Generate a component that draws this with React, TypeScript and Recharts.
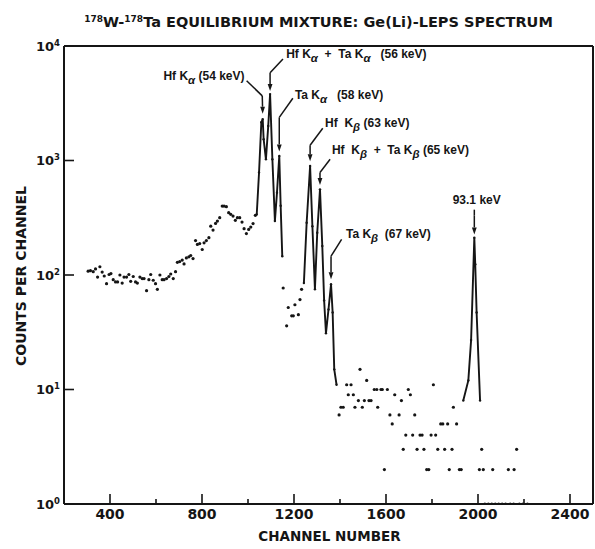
import React from 'react';
import { ComposedChart, Scatter, XAxis, YAxis, ReferenceLine, ReferenceDot } from 'recharts';

const INK = '#151515';
const FONT = '"DejaVu Sans", Verdana, sans-serif';
const ANNO_FONT = '"Liberation Sans", Arial, sans-serif';

// x axis ticks (every 200, labelled every 400)
const xTicks = [400, 600, 800, 1000, 1200, 1400, 1600, 1800, 2000, 2200, 2400];
const yTicks = [1, 10, 100, 1000, 10000];

// continuum below the X-ray peaks (dots)
const bgChannels = [
  305, 315, 327, 337, 346, 356, 366, 375, 385, 396,
  404, 414, 424, 433, 443, 453, 461, 472, 482, 490,
  501, 511, 519, 530, 540, 548, 559, 569, 577, 588,
  598, 606, 617, 627, 635, 646, 656, 664, 675, 685,
  693, 703, 714, 722, 732, 743, 751, 761, 772, 780,
  790, 801, 809, 819, 830, 838, 848, 859, 867, 877,
  888, 896, 906, 916, 925, 935, 945, 954, 964, 974,
  983, 993, 1003, 1012, 1022, 1032,
];
const bgCounts = [
  108, 109, 107, 113, 96, 118, 106, 98, 84, 101,
  103, 91, 87, 87, 100, 85, 96, 96, 101, 88,
  97, 87, 85, 96, 93, 93, 73, 91, 101, 90,
  84, 75, 100, 91, 91, 93, 97, 102, 93, 107,
  129, 131, 135, 125, 141, 144, 148, 139, 200, 185,
  188, 167, 191, 200, 212, 267, 247, 282, 296, 317,
  400, 400, 395, 350, 339, 327, 300, 317, 317, 290,
  254, 230, 250, 262, 281, 332,
];

// K-alpha group (joined line)
const kaChannels = [1038, 1048, 1058, 1064, 1068, 1078, 1088, 1096, 1106, 1117, 1126, 1136, 1142, 1149];
const kaCounts = [338, 785, 2160, 2300, 1535, 1025, 2000, 3800, 1025, 296, 524, 1097, 403, 146];

// between the K-alpha and K-beta groups (dots)
const gapChannels = [1153, 1168, 1175, 1190, 1197, 1204, 1219, 1226, 1233];
const gapCounts = [77, 36, 52, 44, 44, 55, 45, 61, 75];

// K-beta group (joined line)
const kbChannels = [1243, 1255, 1270, 1280, 1291, 1301, 1313, 1323, 1331, 1339, 1350, 1361, 1368, 1375, 1385];
const kbCounts = [85, 286, 896, 267, 75, 234, 560, 179, 60, 31, 50, 83, 47, 15, 11];

// tail up to the 93.1 keV gamma line (dots)
const tailChannels = [
  1396, 1404, 1414, 1429, 1436, 1448, 1458, 1465, 1480, 1487,
  1497, 1506, 1516, 1526, 1535, 1549, 1560, 1564, 1578, 1584,
  1593, 1606, 1617, 1627, 1638, 1657, 1667, 1675, 1686, 1697,
  1706, 1716, 1725, 1735, 1748, 1757, 1765, 1777, 1786, 1796,
  1806, 1816, 1825, 1838, 1847, 1855, 1868, 1875, 1887, 1893,
  1907, 1919, 1927,
];
const tailCounts = [
  6, 7, 7, 11, 9, 11, 9, 7, 8, 15,
  7, 8, 12, 8, 8, 10, 10, 7, 10, 10,
  2, 10, 6, 5, 9, 6, 8, 3, 4, 10,
  9, 4, 6, 3, 4, 4, 3, 2, 2, 4,
  11, 4, 3, 5, 5, 3, 5, 2, 3, 7,
  5, 2, 2,
];

// 93.1 keV gamma peak (joined line)
const gammaChannels = [1936, 1958, 1970, 1984, 1988, 1994, 2009];
const gammaCounts = [8, 12, 27, 212, 124, 47, 8];

// above the gamma peak (dots)
const highChannels = [2006, 2016, 2023, 2064, 2132, 2157, 2168, 2030, 2045, 2060, 2075, 2090, 2105, 2120, 2140, 2155, 2180, 2195, 2215];
const highCounts = [2, 3, 2, 2, 2, 2, 3, 1, 1, 1, 1, 1, 1, 1, 1, 1, 1, 1, 1];

// peak labels: text, where the text sits, and arrow start -> bend -> tip (channel, counts)
const annotations = [
  { text: 'Hf K_α (54 keV)', at: [985, 5050], anchor: 'end', arrow: [[994, 4970], [1062, 3670], [1064, 2560]] },
  { text: 'Hf K_α  +  Ta K_α   (56 keV)', at: [1166, 7860], anchor: 'start', arrow: [[1152, 7700], [1096, 5850], [1096, 4050]] },
  { text: 'Ta K_α   (58 keV)', at: [1204, 3445], anchor: 'start', arrow: [[1195, 3500], [1136, 2380], [1136, 1200]] },
  { text: 'Hf  K_β (63 keV)', at: [1335, 1963], anchor: 'start', arrow: [[1325, 1915], [1270, 1360], [1270, 985]] },
  { text: 'Hf  K_β  +  Ta K_β (65 keV)', at: [1365, 1140], anchor: 'start', arrow: [[1357, 1025], [1313, 785], [1313, 610]] },
  { text: 'Ta K_β  (67 keV)', at: [1426, 210], anchor: 'start', arrow: [[1407, 205], [1361, 146], [1361, 92]] },
  { text: '93.1 keV', at: [1890, 414], anchor: 'start', arrow: [[1984, 372], [1984, 330], [1984, 226]] },
];

const toPoints = (ch: number[], counts: number[]) => ch.map((c, i) => ({ channel: c, counts: counts[i] }));

const Dot = (props: any) => <circle cx={props.cx} cy={props.cy} r={1.6} fill={INK} />;
const LineDot = (props: any) => <circle cx={props.cx} cy={props.cy} r={1.2} fill={INK} />;

function richText(s: string, size: number) {
  const parts = s.split(/(_.)/).filter(Boolean);
  const shift = size * 0.3;
  let down = false;
  return parts.map((p, i) => {
    if (p.length === 2 && p[0] === '_') {
      const el = (
        <tspan key={i} dy={down ? 0 : shift} fontSize={size * 0.95} fontStyle="italic">
          {p[1]}
        </tspan>
      );
      down = true;
      return el;
    }
    const el = (
      <tspan key={i} dy={down ? -shift : 0}>
        {p}
      </tspan>
    );
    down = false;
    return el;
  });
}

const AnnoLabel = ({ viewBox, text, anchor }: any) => (
  <text
    x={viewBox.x}
    y={viewBox.y}
    textAnchor={anchor}
    fontFamily={ANNO_FONT}
    fontWeight="bold"
    fontSize={12}
    fill={INK}
    style={{ whiteSpace: 'pre' }}
  >
    {richText(text, 12)}
  </text>
);

const ArrowSeg = (props: any) => {
  const { x1, y1, x2, y2, head } = props;
  const dx = x2 - x1;
  const dy = y2 - y1;
  const len = Math.hypot(dx, dy) || 1;
  const ux = dx / len;
  const uy = dy / len;
  const hl = 7;
  const hw = 2.4;
  const bx = x2 - ux * hl;
  const by = y2 - uy * hl;
  return (
    <g>
      <line x1={x1} y1={y1} x2={head ? bx : x2} y2={head ? by : y2} stroke={INK} strokeWidth={1.5} />
      {head && (
        <polygon
          points={`${x2},${y2} ${bx - uy * hw},${by + ux * hw} ${bx + uy * hw},${by - ux * hw}`}
          fill={INK}
        />
      )}
    </g>
  );
};

const XTick = ({ x, y, payload }: any) => {
  const major = payload.value % 400 === 0;
  return (
    <g>
      <line x1={x} y1={y} x2={x} y2={y - (major ? 10 : 5)} stroke={INK} strokeWidth={1.6} />
      {major && (
        <text x={x} y={y + 15} textAnchor="middle" fontFamily={FONT} fontWeight="bold" fontSize={14} fill={INK}>
          {payload.value}
        </text>
      )}
    </g>
  );
};

const TopTick = ({ x, y, payload }: any) => {
  const major = payload.value % 400 === 0;
  return <line x1={x} y1={y} x2={x} y2={y + (major ? 10 : 4)} stroke={INK} strokeWidth={1.6} />;
};

const YTick = ({ x, y, payload }: any) => {
  const exp = Math.round(Math.log10(payload.value));
  return (
    <g>
      <line x1={x} y1={y} x2={x + 10} y2={y} stroke={INK} strokeWidth={1.6} />
      <text x={x - 4} y={y + 4.5} textAnchor="end" fontFamily={FONT} fontWeight="bold" fontSize={13} fill={INK}>
        10
        <tspan dy={-5} fontSize={8.5}>
          {exp}
        </tspan>
      </text>
    </g>
  );
};

const XTitle = ({ viewBox }: any) => (
  <text
    x={viewBox.x + viewBox.width / 2 + 1}
    y={viewBox.y + 37}
    textAnchor="middle"
    fontFamily={FONT}
    fontWeight="bold"
    fontSize={13.5}
    fill={INK}
  >
    CHANNEL NUMBER
  </text>
);

const YTitle = ({ viewBox }: any) => {
  const cx = viewBox.x + 26;
  const cy = viewBox.y + viewBox.height / 2 + 1;
  return (
    <text
      x={cx}
      y={cy}
      transform={`rotate(-90 ${cx} ${cy})`}
      textAnchor="middle"
      fontFamily={FONT}
      fontWeight="bold"
      fontSize={14}
      fill={INK}
    >
      COUNTS PER CHANNEL
    </text>
  );
};

const ChartTitle = ({ viewBox }: any) => (
  <text
    x={viewBox.x + viewBox.width / 2 - 10}
    y={viewBox.y - 18}
    textAnchor="middle"
    fontFamily={FONT}
    fontWeight="bold"
    fontSize={14.5}
    fill={INK}
  >
    <tspan fontSize={9} dy={-5}>178</tspan>
    <tspan dy={5}>W-</tspan>
    <tspan fontSize={9} dy={-5}>178</tspan>
    <tspan dy={5}>Ta EQUILIBRIUM MIXTURE: Ge(Li)-LEPS SPECTRUM</tspan>
  </text>
);

export default function App() {
  const axisLine = { stroke: INK, strokeWidth: 2 };
  return (
    <div style={{ position: 'absolute', left: 0, top: 0, width: 595, height: 549, background: '#fff' }}>
      <ComposedChart width={595} height={549} margin={{ top: 45, right: 2, bottom: 0, left: 0 }}>
        <XAxis
          dataKey="channel"
          type="number"
          domain={[200, 2500]}
          ticks={xTicks}
          interval={0}
          allowDataOverflow
          tick={<XTick />}
          tickSize={0}
          tickMargin={0}
          tickLine={false}
          axisLine={axisLine}
          height={45}
          label={<XTitle />}
        />
        <XAxis
          xAxisId="top"
          orientation="top"
          type="number"
          domain={[200, 2500]}
          ticks={xTicks}
          interval={0}
          allowDataOverflow
          tick={<TopTick />}
          tickSize={0}
          tickMargin={0}
          tickLine={false}
          axisLine={axisLine}
          height={1}
          label={<ChartTitle />}
        />
        <YAxis
          dataKey="counts"
          type="number"
          scale="log"
          domain={[1, 10000]}
          ticks={yTicks}
          interval={0}
          allowDataOverflow
          tick={<YTick />}
          tickSize={0}
          tickMargin={0}
          tickLine={false}
          axisLine={axisLine}
          width={64}
          label={<YTitle />}
        />
        <ReferenceLine x={2500} stroke={INK} strokeWidth={2} />

        <Scatter data={toPoints(bgChannels, bgCounts)} shape={Dot} isAnimationActive={false} />
        <Scatter data={toPoints(gapChannels, gapCounts)} shape={Dot} isAnimationActive={false} />
        <Scatter data={toPoints(tailChannels, tailCounts)} shape={Dot} isAnimationActive={false} />
        <Scatter data={toPoints(highChannels, highCounts)} shape={Dot} isAnimationActive={false} />
        <Scatter
          data={toPoints(kaChannels, kaCounts)}
          line={{ stroke: INK, strokeWidth: 1.9 }}
          shape={LineDot}
          isAnimationActive={false}
        />
        <Scatter
          data={toPoints(kbChannels, kbCounts)}
          line={{ stroke: INK, strokeWidth: 1.9 }}
          shape={LineDot}
          isAnimationActive={false}
        />
        <Scatter
          data={toPoints(gammaChannels, gammaCounts)}
          line={{ stroke: INK, strokeWidth: 1.9 }}
          shape={LineDot}
          isAnimationActive={false}
        />

        {annotations.map((a, i) => (
          <ReferenceLine
            key={`a1-${i}`}
            segment={[
              { x: a.arrow[0][0], y: a.arrow[0][1] },
              { x: a.arrow[1][0], y: a.arrow[1][1] },
            ]}
            shape={(p: any) => <ArrowSeg {...p} />}
          />
        ))}
        {annotations.map((a, i) => (
          <ReferenceLine
            key={`a2-${i}`}
            segment={[
              { x: a.arrow[1][0], y: a.arrow[1][1] },
              { x: a.arrow[2][0], y: a.arrow[2][1] },
            ]}
            shape={(p: any) => <ArrowSeg {...p} head />}
          />
        ))}
        {annotations.map((a, i) => (
          <ReferenceDot
            key={`t-${i}`}
            x={a.at[0]}
            y={a.at[1]}
            r={0}
            fill="none"
            stroke="none"
            label={<AnnoLabel text={a.text} anchor={a.anchor} />}
          />
        ))}
      </ComposedChart>
    </div>
  );
}
